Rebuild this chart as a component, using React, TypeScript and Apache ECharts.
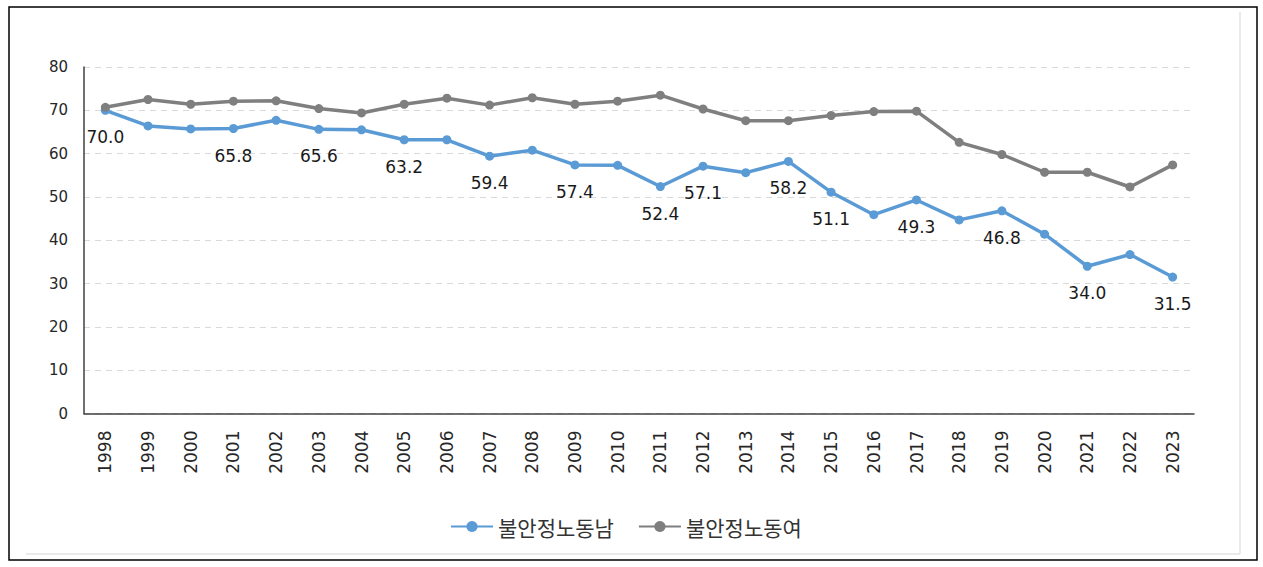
import React, { useEffect, useRef } from "react";
import * as echarts from "echarts";

const years = [
  "1998", "1999", "2000", "2001", "2002", "2003", "2004", "2005", "2006",
  "2007", "2008", "2009", "2010", "2011", "2012", "2013", "2014", "2015",
  "2016", "2017", "2018", "2019", "2020", "2021", "2022", "2023",
];
const maleName = "불안정노동남";
const femaleName = "불안정노동여";
const male = [
  70.0, 66.4, 65.7, 65.8, 67.7, 65.6, 65.5, 63.2, 63.2, 59.4, 60.8, 57.4, 57.3,
  52.4, 57.1, 55.6, 58.2, 51.1, 45.9, 49.3, 44.7, 46.8, 41.4, 34.0, 36.7, 31.5,
];
const female = [
  70.7, 72.5, 71.4, 72.1, 72.2, 70.4, 69.4, 71.4, 72.8, 71.2, 72.9, 71.4, 72.1,
  73.5, 70.3, 67.6, 67.6, 68.8, 69.7, 69.8, 62.6, 59.8, 55.7, 55.7, 52.3, 57.4,
];
const labeledYears = [
  "1998", "2001", "2003", "2005", "2007", "2009", "2011", "2012", "2014",
  "2015", "2017", "2019", "2021", "2023",
];
const yMin = 0;
const yMax = 80;
const yStep = 10;

const BLUE = "#5B9BD5";
const GRAY = "#7F7F7F";
const NUM_FONT = "DejaVu Sans";

export default function App() {
  const ref = useRef<HTMLDivElement>(null);
  useEffect(() => {
    document.body.style.margin = "0";
    if (!ref.current) return;
    const chart = echarts.init(ref.current, undefined, { renderer: "svg" });
    chart.setOption({
      animation: false,
      backgroundColor: "#fff",
      grid: { left: 84, right: 69, top: 67, bottom: 153.5, containLabel: false },
      legend: {
        left: 445,
        top: 511,
        itemWidth: 42,
        itemHeight: 14,
        itemGap: 24,
        textStyle: {
          fontFamily: "Noto Sans CJK KR",
          fontSize: 21,
          color: "#333",
        },
        data: [maleName, femaleName],
      },
      xAxis: {
        type: "category",
        data: years,
        boundaryGap: true,
        axisLine: { lineStyle: { color: "#404040", width: 1.5 } },
        axisTick: { show: false },
        axisLabel: {
          rotate: 90,
          margin: 17,
          fontFamily: NUM_FONT,
          fontSize: 17,
          color: "#262626",
          interval: 0,
        },
      },
      yAxis: {
        type: "value",
        min: yMin,
        max: yMax,
        interval: yStep,
        axisLine: { show: true, lineStyle: { color: "#404040", width: 1.5 } },
        axisTick: { show: false },
        splitLine: { lineStyle: { color: "#D9D9D9", type: [6, 5], width: 1 } },
        axisLabel: {
          margin: 16,
          fontFamily: NUM_FONT,
          fontSize: 15,
          color: "#262626",
        },
      },
      series: [
        {
          name: maleName,
          type: "line",
          data: male.map((v, i) => ({
            value: v,
            label: { show: labeledYears.includes(years[i]) },
          })),
          symbol: "circle",
          symbolSize: 9,
          lineStyle: { color: BLUE, width: 3.5 },
          itemStyle: { color: BLUE },
          label: {
            position: "bottom",
            distance: 14,
            fontFamily: NUM_FONT,
            fontSize: 17,
            color: "#1a1a1a",
            formatter: (p: any) => Number(p.value).toFixed(1),
          },
          z: 2,
        },
        {
          name: femaleName,
          type: "line",
          data: female,
          symbol: "circle",
          symbolSize: 9,
          lineStyle: { color: GRAY, width: 3.5 },
          itemStyle: { color: GRAY },
          label: { show: false },
          z: 3,
        },
      ],
      graphic: [
        {
          type: "rect",
          shape: { x: 9, y: 7, width: 1248, height: 553 },
          style: { fill: "none", stroke: "#000", lineWidth: 1.5 },
          silent: true,
        },
        {
          type: "line",
          shape: { x1: 1240, y1: 12, x2: 1240, y2: 554 },
          style: { stroke: "#E3E3E3", lineWidth: 1.5 },
          silent: true,
        },
        {
          type: "line",
          shape: { x1: 26, y1: 554, x2: 1240, y2: 554 },
          style: { stroke: "#E3E3E3", lineWidth: 1.5 },
          silent: true,
        },
      ],
    });
    return () => chart.dispose();
  }, []);
  return <div ref={ref} style={{ width: 1263, height: 567 }} />;
}
